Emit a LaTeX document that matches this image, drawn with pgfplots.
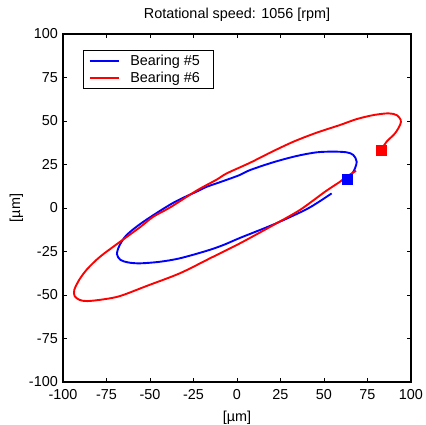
\documentclass[border=0pt]{standalone}
\usepackage{fontspec}
\setmainfont{Liberation Sans}
\usepackage{pgfplots}
\pgfplotsset{compat=1.18}

\pgfplotstableread{
x y
82.8 33.3
86.0 38.1
90.8 42.9
93.7 47.7
94.1 50.6
91.8 53.4
87.0 54.4
78.4 53.4
68.8 51.1
59.2 47.7
45.8 43.3
32.4 38.1
19.0 31.8
7.5 26.0
-5.9 19.9
-11.7 16.3
-23.2 10.0
-38.5 0.3
-48.1 -5.0
-55.7 -11.0
-67.2 -19.4
-78.7 -28.0
-86.0 -35.0
-90.5 -41.0
-93.5 -47.0
-93.3 -50.6
-90.5 -52.8
-86.0 -53.5
-76.8 -52.5
-67.2 -50.6
-51.9 -44.8
-32.8 -37.5
-15.5 -28.9
1.7 -20.3
20.9 -9.8
36.2 -1.1
50.5 9.3
59.2 15.1
63.0 18.0
68.4 21.4
}\bearingsix

\pgfplotstableread{
x y
63.4 16.5
67.0 21.0
68.8 26.6
66.8 30.5
63.0 32.0
55.3 32.4
45.8 32.0
34.3 29.9
20.9 26.3
7.5 21.8
1.7 19.0
-7.9 15.5
-17.4 12.2
-21.3 10.3
-36.6 3.0
-53.8 -7.9
-63.4 -15.5
-67.5 -21.5
-69.0 -26.5
-67.0 -29.8
-62.5 -31.3
-55.7 -31.8
-44.3 -30.9
-32.8 -28.9
-17.4 -24.6
-7.9 -21.3
1.7 -17.2
20.9 -9.5
39.0 -1.2
47.0 3.5
54.4 8.4
}\bearingfive

\begin{document}
\begin{tikzpicture}[font=\fontsize{14.4}{17}\selectfont]
\begin{axis}[
  scale only axis,
  width=348pt, height=348pt,
  xmin=-100, xmax=100, ymin=-100, ymax=100,
  xtick={-100,-75,-50,-25,0,25,50,75,100},
  ytick={-100,-75,-50,-25,0,25,50,75,100},
  xticklabels={-100,-75,-50,-25,0,25,50,75,100},
  yticklabels={-100,-75,-50,-25,0,25,50,75,100},
  tick align=inside,
  major tick length=4pt,
  every tick/.style={black, line width=0.9pt},
  axis line style={black, line width=1.3pt},
  xticklabel style={anchor=base, yshift=-17.5pt, inner sep=0pt},
  yticklabel style={anchor=east, xshift=-5pt, inner sep=0pt},
  title={Rotational speed: 1056 [rpm]},
  title style={at={(axis description cs:0.5,1.0287)}, anchor=base, inner sep=0pt},
  xlabel={[µm]},
  ylabel={[µm]},
  xlabel style={at={(axis description cs:0.5,-0.1135)}, anchor=base, inner sep=0pt},
  ylabel style={at={(axis description cs:-0.1230,0.5)}, anchor=base, inner sep=0pt},
  legend style={at={(axis description cs:0.0583,0.954)}, anchor=north west,
    draw=black, line width=0.6pt, inner xsep=5pt, inner ysep=4.6pt,
    nodes={inner sep=0pt, text depth=0.15em},
    column sep=10.4pt, row sep=5.2pt},
  legend cell align=left,
  legend image code/.code={\draw[#1] (0pt,0pt) -- (29.4pt,0pt);},
]
\addplot[blue, line width=1.9pt, no markers, smooth, tension=0.5] table[x=x,y=y] {\bearingfive};
\addlegendentry{\makebox[78.4pt][l]{Bearing \#5}}
\addplot[red, line width=1.9pt, no markers, smooth, tension=0.5] table[x=x,y=y] {\bearingsix};
\addlegendentry{\makebox[78.4pt][l]{Bearing \#6}}
\addplot[forget plot, only marks, mark=square*, mark size=4.8pt, blue, mark options={draw=none, fill=blue}] coordinates {(63.4,16.5)};
\addplot[forget plot, only marks, mark=square*, mark size=4.8pt, red, mark options={draw=none, fill=red}] coordinates {(82.8,33.3)};
\end{axis}
\pgfresetboundingbox
\path (-63pt,-42pt) rectangle (363pt,382pt);
\end{tikzpicture}
\end{document}
